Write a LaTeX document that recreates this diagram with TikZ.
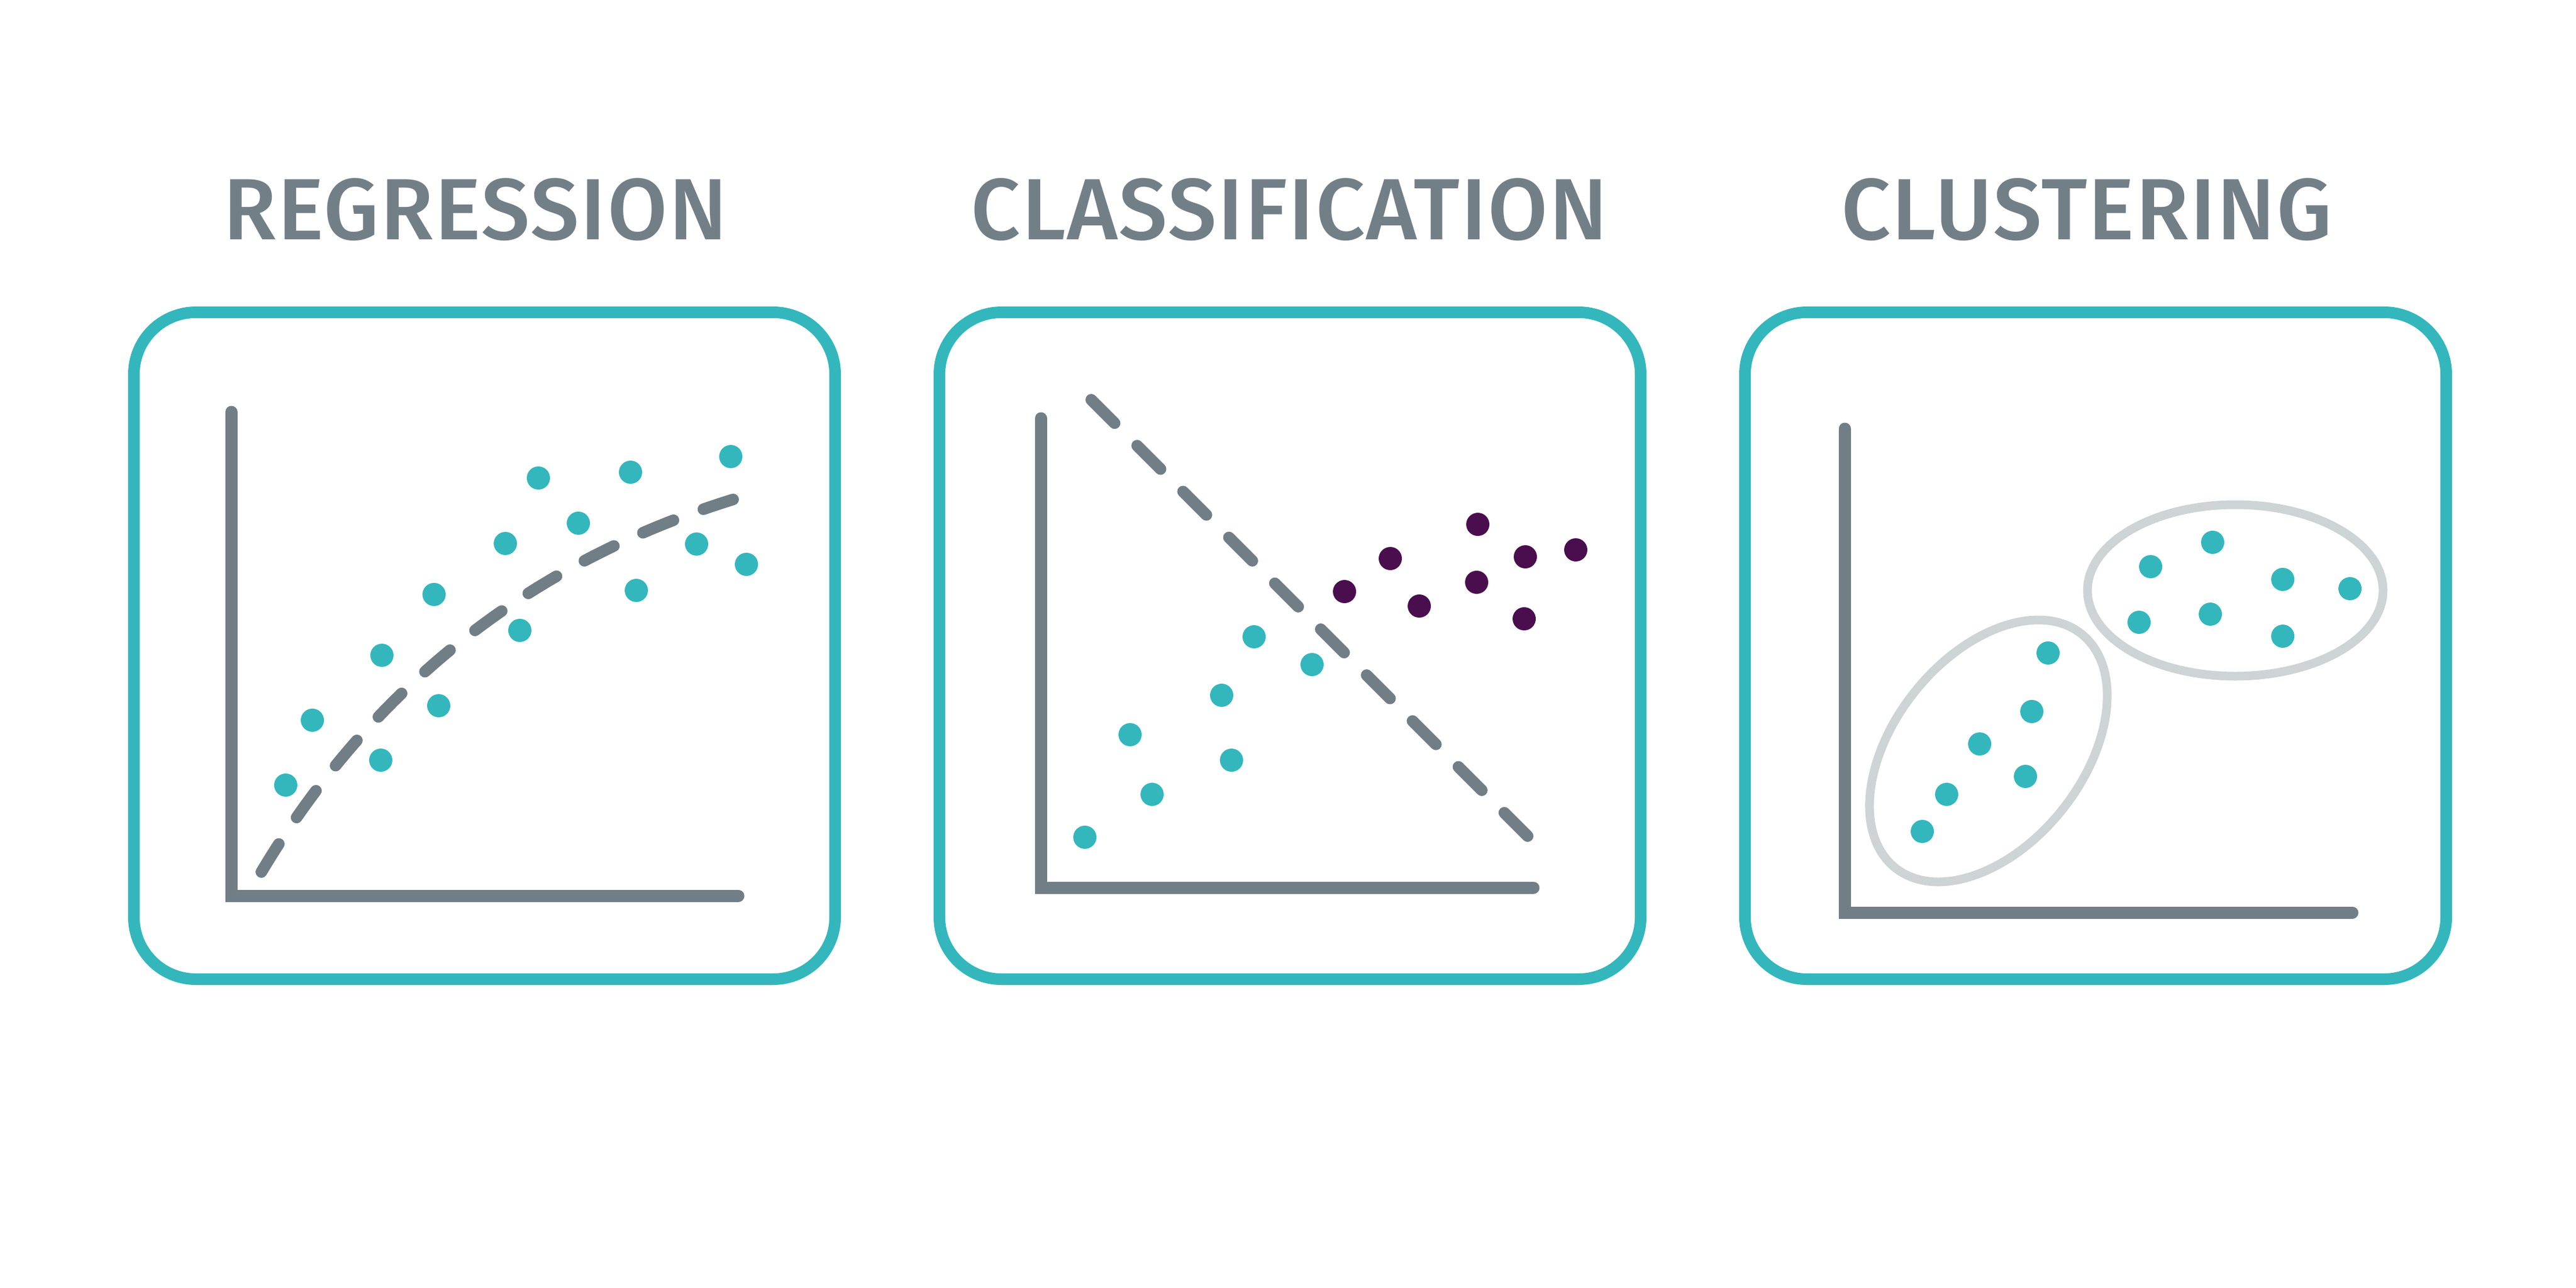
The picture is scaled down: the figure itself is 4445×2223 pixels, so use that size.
\documentclass[tikz,border=0pt]{standalone}
\usepackage{fontspec}
\newfontfamily\headfont{Fira Sans}[UprightFont=* Medium, LetterSpace=1.5]
\definecolor{teal1}{HTML}{33B7BC}
\definecolor{axisgray}{HTML}{717E86}
\definecolor{headgray}{HTML}{737F87}
\definecolor{plum}{HTML}{4A0E4E}
\definecolor{ringgray}{HTML}{CED3D5}

\begin{document}
\begin{tikzpicture}[x=1pt, y=-1pt,
  frame/.style={draw=teal1, line width=20pt, rounded corners=107pt},
  axis/.style={draw=axisgray, line width=21pt, line cap=round},
  fitline/.style={draw=axisgray, line width=20pt, line cap=round, dash pattern=on 57pt off 55pt},
  heading/.style={text=headgray, font=\headfont\fontsize{150}{150}\selectfont, anchor=base, inner sep=0pt},
  cdot/.style={fill=teal1},
  pdot/.style={fill=plum},
  group/.style={draw=ringgray, line width=15pt}]
\useasboundingbox (0,0) rectangle (4445,2223);

%headings
\node[heading] (reghead) at (820,413) {REGRESSION};
\node[heading] (clahead) at (2225,413) {CLASSIFICATION};
\node[heading] (cluhead) at (3601,413) {CLUSTERING};

%first
\draw[frame] (231,539) rectangle (1441,1690);
\draw[axis] (399,711) -- (399,1546) -- (1274,1546);
\draw[fitline] (451,1505) .. controls (642,1186) and (914,971) .. (1265,862);
\foreach \p in {(493,1355),(539,1243),(657,1312),(659,1131),(757,1218),(749,1026),(897,1088),(872,938),
                (929,825),(998,903),(1088,815),(1098,1019),(1202,939),(1261,788),(1288,974)}
  \fill[cdot] \p circle (20pt);

%second
\draw[frame] (1621,539) rectangle (2831,1690);
\draw[axis] (1796,722) -- (1796,1532) -- (2646,1532);
\draw[fitline] (1883,690) -- (2636,1443);
\foreach \p in {(1872,1445),(1950,1268),(1988,1371),(2108,1200),(2125,1312),(2164,1099),(2264,1147)}
  \fill[cdot] \p circle (20pt);
\foreach \p in {(2320,1021),(2399,964),(2449,1046),(2550,905),(2548,1005),(2632,961),(2630,1068),(2719,949)}
  \fill[pdot] \p circle (20pt);

%third
\draw[frame] (3011,539) rectangle (4221,1690);
\draw[axis] (3183,740) -- (3183,1575) -- (4059,1575);
\draw[group] (3857,1019) ellipse [x radius=255pt, y radius=148pt];
\draw[group, rotate around={51.5:(3431,1296)}] (3431,1296) ellipse [x radius=258pt, y radius=163pt];
\foreach \p in {(3317,1435),(3359,1371),(3416,1284),(3495,1340),(3506,1228),(3534,1127),
                (3711,978),(3818,936),(3939,1000),(4055,1016),(3691,1074),(3814,1060),(3939,1098)}
  \fill[cdot] \p circle (20pt);
\end{tikzpicture}
\end{document}
